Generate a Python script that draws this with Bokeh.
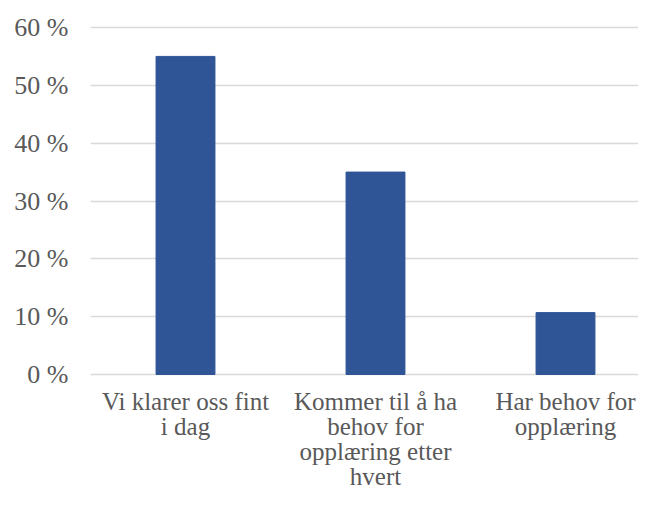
from bokeh.plotting import figure
from bokeh.models import Range1d, FixedTicker, ColumnDataSource, LabelSet
from bokeh.embed import file_html
from bokeh.resources import INLINE

categories = ["Vi klarer oss fint i dag",
              "Kommer til å ha behov for opplæring etter hvert",
              "Har behov for opplæring"]
category_label_lines = [["Vi klarer oss fint", "i dag"],
                        ["Kommer til å ha", "behov for", "opplæring etter", "hvert"],
                        ["Har behov for", "opplæring"]]
values = [55.0, 35.0, 10.7]
y_ticks = [0, 10, 20, 30, 40, 50, 60]
y_tick_labels = ["0 %", "10 %", "20 %", "30 %", "40 %", "50 %", "60 %"]

xs = list(range(len(categories)))
src = ColumnDataSource(dict(x=xs, top=values, cat=categories))

FONT = "Liberation Serif"
TXT = "#595959"
W, H = 638, 491
LEFT, TOP = 90, 20
ZERO_Y = 374          # pixel row of the 0 % line
PX_PER = 347 / 60.0   # pixels per percentage point
CAT_PX = 190          # pixels per category slot
FIRST_BASELINE = 35   # px below the zero line
LINE_STEP = 25        # px between label lines

y_top = 60 + (27 - TOP) / PX_PER
y_bot = -(H - ZERO_Y) / PX_PER

lx, ly, lt, loff = [], [], [], []
for i, lines in enumerate(category_label_lines):
    for j, t in enumerate(lines):
        lx.append(xs[i])
        ly.append(0)
        lt.append(t)
        loff.append(-(FIRST_BASELINE + LINE_STEP * j))
lab_src = ColumnDataSource(dict(x=lx, y=ly, text=lt, yoff=loff))

p = figure(width=W, height=H, output_backend="svg", toolbar_location=None,
           x_range=Range1d(-0.5, -0.5 + (W - LEFT) / CAT_PX), y_range=Range1d(y_bot, y_top),
           min_border_left=LEFT, min_border_right=0, min_border_top=TOP,
           min_border_bottom=0)
p.outline_line_color = None
p.background_fill_color = "white"
p.border_fill_color = "white"

p.vbar(x="x", top="top", bottom=0, width=0.31, source=src,
       fill_color="#2F5597", line_color="#2F5597")

p.xgrid.grid_line_color = None
p.ygrid.grid_line_color = "#d9d9d9"
p.ygrid.grid_line_width = 1.5

p.yaxis.ticker = FixedTicker(ticks=y_ticks)
p.yaxis.major_label_overrides = {t: l for t, l in zip(y_ticks, y_tick_labels)}
p.yaxis.axis_line_color = None
p.yaxis.major_tick_line_color = None
p.yaxis.minor_tick_line_color = None
p.yaxis.major_tick_out = 0
p.yaxis.major_tick_in = 0
p.yaxis.major_label_standoff = 22
p.yaxis.major_label_text_font = FONT
p.yaxis.major_label_text_font_size = "26px"
p.yaxis.major_label_text_color = TXT

p.xaxis.visible = False

labels = LabelSet(x="x", y="y", text="text", y_offset="yoff", source=lab_src,
                  text_align="center", text_baseline="alphabetic",
                  text_font=FONT, text_font_size="25px", text_color=TXT)
p.add_layout(labels)

open("out.html", "w").write(file_html(p, INLINE))
